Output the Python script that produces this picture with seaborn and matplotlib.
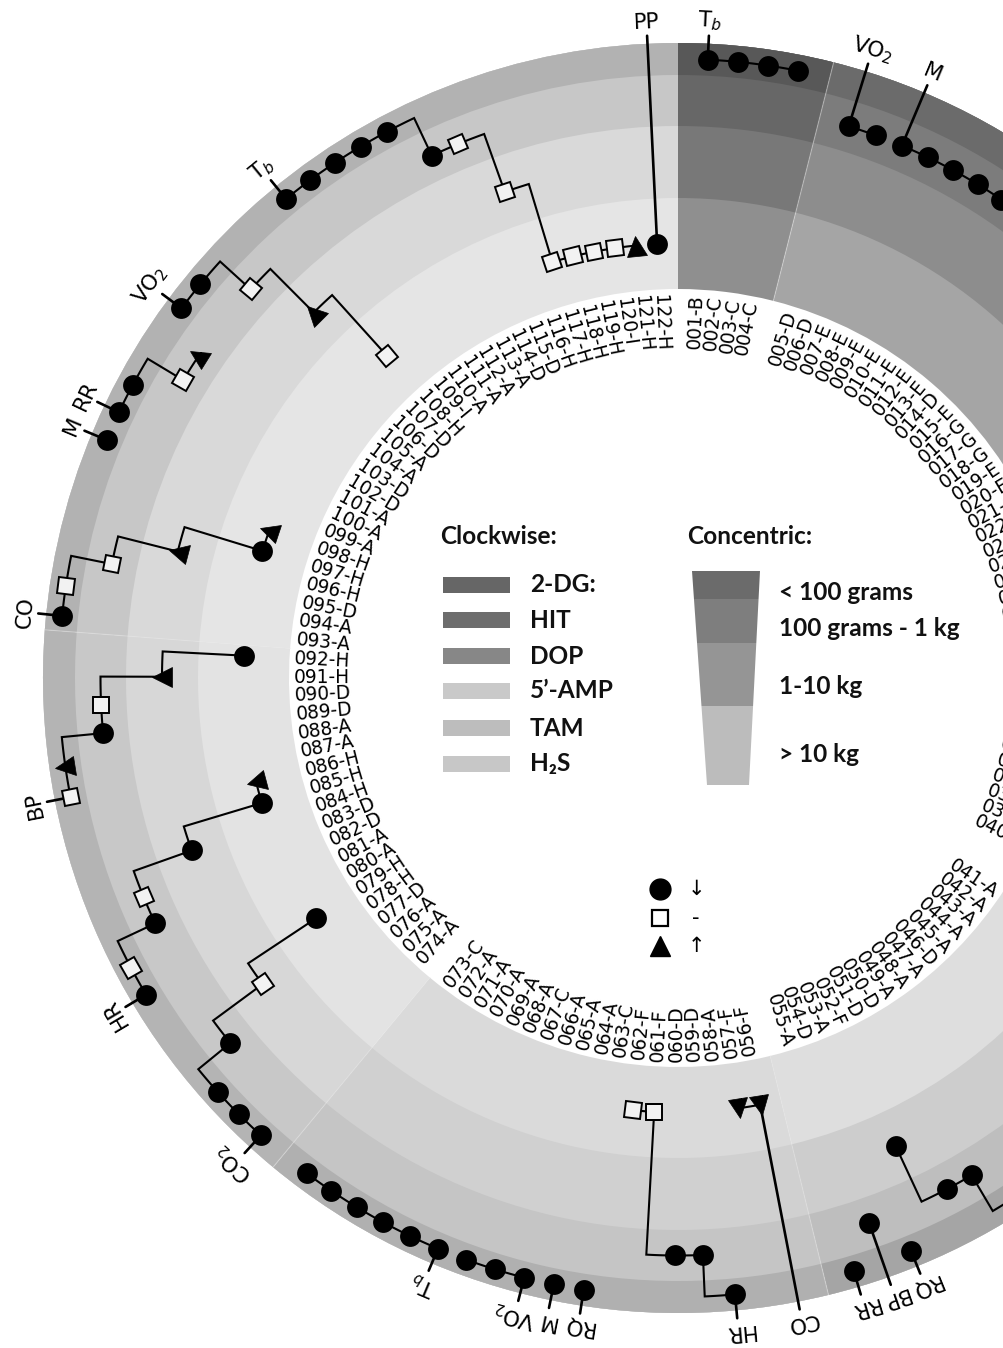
import numpy as np
import pandas as pd
import matplotlib
matplotlib.use("Agg")
import matplotlib.pyplot as plt
from matplotlib.markers import MarkerStyle
from matplotlib.transforms import Affine2D
from matplotlib.patches import Rectangle, Polygon
import seaborn as sns

sns.set_theme(style="white")
plt.rcParams["font.family"] = ["DejaVu Sans"]
plt.rcParams["mathtext.fontset"] = "dejavusans"

W, H = 1004, 1348

# ---------------- data ----------------
# sample identifiers around the wheel (number + letter code)
id_letters = ("BCCC"
              "DDEEEEEEEDEGGGEE" "EEEEEEEEAAAAAAAAAAAA"
              "AAAAADAAADDFADA"
              "FFADDFFCAAACAAAAAC"
              "AAADHHAADDHHH" "AADDHHAADHHH" "AAADDAADDHIA" "AAADDHHHHIHH")
sample_ids = [f"{i + 1:03d}-{c}" for i, c in enumerate(id_letters)]

# clockwise sectors (compounds) and their sample counts
compounds = ["2-DG:", "HIT", "DOP", "5’-AMP", "TAM", "H₂S"]
compound_sizes = [4, 36, 15, 18, 19, 30]
# angular gap (degrees) left after each sector; the last one straddles 12 o'clock
gap_after = [3.2, 5.8, 2.8, 2.7, 0.0, 2.7]

# concentric rings (body mass classes), outer -> inner
mass_classes = ["< 100 grams", "100 grams - 1 kg", "1-10 kg", "> 10 kg"]

# ring shading per sector, outer -> inner
sector_shades = [
    ["#585858", "#676767", "#787878", "#8f8f8f"],  # 2-DG
    ["#6b6b6b", "#7c7c7c", "#8d8d8d", "#a5a5a5"],  # HIT
    ["#a5a5a5", "#bebebe", "#cdcdcd", "#dedede"],  # DOP
    ["#b0b0b0", "#c5c5c5", "#d0d0d0", "#dadada"],  # 5'-AMP
    ["#b4b4b4", "#c8c8c8", "#d7d7d7", "#e3e3e3"],  # TAM
    ["#b2b2b2", "#c7c7c7", "#d9d9d9", "#e5e5e5"],  # H2S
]
legend_swatches = ["#666666", "#6d6d6d", "#878787", "#c9c9c9", "#bdbdbd", "#c7c7c7"]
mass_swatches = ["#6b6b6b", "#7e7e7e", "#959595", "#bcbcbc"]

# physiological responses: label, first sample, ring per sample, sign per sample
# ring: 1 = < 100 g ... 4 = > 10 kg ; sign: d = decrease, n = no change, u = increase
series_names = ["T$_b$", "VO$_2$", "M", "HR", "RQ", "BP", "RR", "CO", "HR", "RQ", "M",
                "VO$_2$", "T$_b$", "CO$_2$", "HR", "BP", "CO", "M", "RR", "VO$_2$",
                "T$_b$", "PP"]
series_start = [1, 5, 7, 49, 53, 54, 55, 56, 58, 63, 64, 65, 68, 74, 80, 87, 93, 99,
                100, 104, 109, 122]
series_rings = ["1111", "22", "222222", "1223", "1", "2", "1", "44", "12244", "1", "1",
                "111", "111111", "111234", "1122344", "112234", "112344", "1", "1122",
                "11234", "1111122344444", "4"]
series_signs = ["dddd", "dd", "dddddd", "dddd", "d", "d", "d", "uu", "dddnn", "d", "d",
                "ddd", "dddddd", "ddddnd", "dndnddu", "nudnud", "dnnudu", "d", "ddnu",
                "ddnun", "ddddddnnnnnnu", "d"]

# ---------------- geometry ----------------
N_SAMPLES = sum(compound_sizes)
SLOT = (360.0 - sum(gap_after)) / N_SAMPLES
R_EDGES = [635, 603, 552, 480, 389]           # outer edge of ring 1 ... inner edge of ring 4
R_MID = {i + 1: (R_EDGES[i] + R_EDGES[i + 1]) / 2 for i in range(4)}
R_STEM, R_LABEL, R_IDS = 643, 646, 384

theta_deg = {}
sample_group = {}
bounds = [0.0]
cursor = gap_after[-1] / 2
k = 1
for g, (n, gp) in enumerate(zip(compound_sizes, gap_after)):
    for _ in range(n):
        theta_deg[k] = cursor + SLOT / 2
        sample_group[k] = g
        cursor += SLOT
        k += 1
    bounds.append(cursor + gp / 2)
    cursor += gp
bounds[-1] = 360.0

fig = plt.figure(figsize=(W / 100, H / 100), dpi=100)
fig.patch.set_facecolor("white")
cx, cy, RAX = 678, 678, 700
ax = fig.add_axes([(cx - RAX) / W, (H - cy - RAX) / H, 2 * RAX / W, 2 * RAX / H],
                  projection="polar")
ax.set_theta_zero_location("N")
ax.set_theta_direction(-1)
ax.set_ylim(0, RAX)
ax.axis("off")

# sector rings, drawn outward-in so neighbouring rings overlap without seams
for g in range(len(compounds)):
    t0, t1 = bounds[g], bounds[g + 1]
    for ring in range(4, 0, -1):
        ax.bar(np.radians(t0), R_EDGES[0] - R_EDGES[ring], width=np.radians(t1 - t0),
               bottom=R_EDGES[ring], align="edge", color=sector_shades[g][ring - 1],
               linewidth=0, zorder=1)
for b in bounds[1:-1]:
    ax.plot([np.radians(b)] * 2, [R_EDGES[-1], R_EDGES[0]], color="#e6e6e6",
            lw=0.8, alpha=0.45, zorder=1.5)

# sample identifiers
for k in range(1, N_SAMPLES + 1):
    t = theta_deg[k]
    if sample_group[k] <= 2:
        rot, ha = 90 - t, "right"
    else:
        rot, ha = 270 - t, "left"
    ax.text(np.radians(t), R_IDS, sample_ids[k - 1], rotation=rot, rotation_mode="anchor",
            ha=ha, va="center", fontsize=13.4, color="black", zorder=2)

# response tracks
circles = []
for name, start, rings, signs in zip(series_names, series_start, series_rings, series_signs):
    idx = list(range(start, start + len(rings)))
    th = [theta_deg[i] for i in idx]
    rr = [R_MID[int(c)] for c in rings]
    pth, pr = [th[0]], [rr[0]]
    for i in range(1, len(idx)):
        arc = np.linspace(th[i - 1], th[i], 12)[1:]
        pth.extend(arc)
        pr.extend([rr[i - 1]] * len(arc))
        pth.append(th[i])
        pr.append(rr[i])
    ax.plot(np.radians(pth), pr, color="black", lw=1.5, zorder=3,
            solid_joinstyle="miter", solid_capstyle="butt")
    ax.plot([np.radians(th[0])] * 2, [rr[0], R_STEM], color="black", lw=1.9, zorder=3)
    ax.text(np.radians(th[0]), R_LABEL, name, rotation=-th[0], rotation_mode="anchor",
            ha="center", va="bottom", fontsize=15.5, color="black", zorder=6)
    for t, r, s in zip(th, rr, signs):
        if s == "d":
            circles.append((np.radians(t), r))
        elif s == "n":
            ax.plot(np.radians(t), r, linestyle="none",
                    marker=MarkerStyle("s", transform=Affine2D().rotate_deg(-t)),
                    ms=11.5, mfc="#f2f2f2", mec="black", mew=1.4, zorder=5)
        else:
            ax.plot(np.radians(t), r, linestyle="none",
                    marker=MarkerStyle("^", transform=Affine2D().rotate_deg(-t)),
                    ms=14, mfc="black", mec="black", mew=0.5, zorder=5)

circ_df = pd.DataFrame(circles, columns=["theta", "r"])
sns.scatterplot(data=circ_df, x="theta", y="r", ax=ax, color="black", s=225,
                linewidth=0, legend=False, zorder=5)
ax.set_ylim(0, RAX)
ax.axis("off")

# ---------------- central legend ----------------
ov = fig.add_axes([0, 0, 1, 1])
ov.set_xlim(0, W)
ov.set_ylim(H, 0)
ov.axis("off")
LFONT = dict(family=["Lato", "DejaVu Sans"], fontweight="bold", fontsize=17.6, color="#111111")

ov.text(440, 537, "Clockwise:", ha="left", va="center", **LFONT)
row_y = [585, 620, 656, 691, 728, 764]
for y, lab, col in zip(row_y, compounds, legend_swatches):
    ov.add_patch(Rectangle((443, y - 8), 67, 16, facecolor=col, edgecolor="none"))
    ov.text(530, y, lab, ha="left", va="center", **LFONT)

ov.text(687, 537, "Concentric:", ha="left", va="center", **LFONT)
stops = [571, 599, 643, 706, 785]


def trap_x(y):
    f = (y - stops[0]) / (stops[-1] - stops[0])
    hw = 34 + (21 - 34) * f
    mid = 726 + 2 * f
    return mid - hw, mid + hw


for y0, y1, col in zip(stops[:-1], stops[1:], mass_swatches):
    l0, r0 = trap_x(y0)
    l1, r1 = trap_x(y1)
    ov.add_patch(Polygon([(l0, y0), (r0, y0), (r1, y1), (l1, y1)], closed=True,
                         facecolor=col, edgecolor="none"))
for y, lab in zip([593, 628, 687, 755], mass_classes):
    ov.text(779, y, lab, ha="left", va="center", **LFONT)

sign_y = [889, 918, 946]
ov.plot(660, sign_y[0], marker="o", ms=15, color="black", linestyle="none")
ov.plot(660, sign_y[1], marker="s", ms=11.5, mfc="white", mec="black", mew=1.6,
        linestyle="none")
ov.plot(660, sign_y[2], marker="^", ms=14, color="black", linestyle="none")
for y, sym in zip(sign_y, ["↓", "-", "↑"]):
    ov.text(696, y, sym, ha="center", va="center", fontsize=15, color="black")

fig.savefig("out.png", dpi=100, facecolor="white")
